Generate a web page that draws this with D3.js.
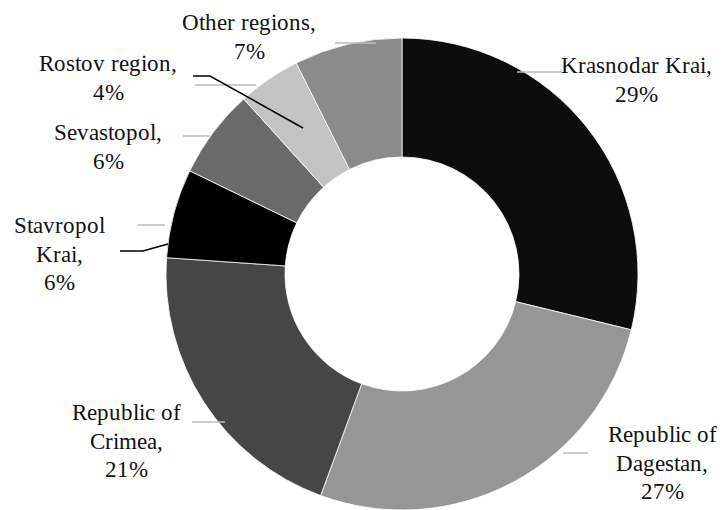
<!DOCTYPE html>
<html>
<head>
<meta charset="utf-8">
<script src="https://cdn.jsdelivr.net/npm/d3@7/dist/d3.min.js"></script>
<style>
@font-face { font-family: "LabelSerif"; src: local("Liberation Serif"), local("LiberationSerif"), local("Times New Roman"), local("Tinos"); }
body{margin:0;}
svg text.lbl{font-family:"LabelSerif","Times New Roman";font-size:23px;fill:#111;}
</style>
</head>
<body>
<svg id="chart" width="728" height="510"></svg>
<script>
// ---- data ----
const regions = ["Krasnodar Krai", "Republic of Dagestan", "Republic of Crimea", "Stavropol Krai", "Sevastopol", "Rostov region", "Other regions"];
const shares = [28.8, 26.8, 20.5, 6.1, 6.1, 4.3, 7.4];
const sliceColors = ["#0d0d0d", "#969696", "#464646", "#000000", "#6a6a6a", "#c3c3c3", "#8b8b8b"];

// ---- label layout (annotation positions) ----
const labelLines = [
  ["Krasnodar Krai,"],
  ["Republic of", "Dagestan,"],
  ["Republic of", "Crimea,"],
  ["Stavropol", "Krai,"],
  ["Sevastopol,"],
  ["Rostov region,"],
  ["Other regions,"]
];
const labelPos = [
  {x: 636, y: 73},
  {x: 662, y: 442},
  {x: 126, y: 420},
  {x: 59, y: 233},
  {x: 108, y: 140},
  {x: 108, y: 71},
  {x: 249, y: 30}
];
const grayLeaders = [
  [[517, 72], [562, 72]],
  [[563, 453], [588, 453]],
  [[192, 422], [225, 422]],
  [[138, 225], [165, 225]],
  [[183, 136], [210, 136]],
  [[195, 85], [256, 85]],
  [[335, 43], [376, 43]]
];
const blackLeaders = [
  [[120, 251], [143, 251], [168, 244]],
  [[193, 76], [210, 76], [303, 128]]
];

const svg = d3.select("#chart");
const cx = 402, cy = 274, rOuter = 236, rInner = 117;

const data = regions.map((r, i) => ({name: r, value: shares[i], color: sliceColors[i], i}));
const pie = d3.pie().value(d => d.value).sort(null).startAngle(0).endAngle(2 * Math.PI);
const arc = d3.arc().innerRadius(rInner).outerRadius(rOuter);

const g = svg.append("g").attr("transform", `translate(${cx},${cy})`);
g.selectAll("path.slice")
  .data(pie(data))
  .join("path")
  .attr("class", "slice")
  .attr("d", arc)
  .attr("fill", d => d.data.color)
  .attr("stroke", "#ffffff")
  .attr("stroke-width", 0.8);

const line = d3.line();
svg.selectAll("path.gl")
  .data(grayLeaders)
  .join("path")
  .attr("class", "gl")
  .attr("d", line)
  .attr("fill", "none")
  .attr("stroke", "#bdbdbd")
  .attr("stroke-width", 1.5);

svg.selectAll("path.bl")
  .data(blackLeaders)
  .join("path")
  .attr("class", "bl")
  .attr("d", line)
  .attr("fill", "none")
  .attr("stroke", "#000")
  .attr("stroke-width", 1.5);

const lineH = 28.5;
data.forEach((d, i) => {
  const lines = labelLines[i].concat([Math.round(d.value) + "%"]);
  lines.forEach((s, k) => {
    svg.append("text")
      .attr("class", "lbl")
      .attr("text-anchor", "middle")
      .attr("x", labelPos[i].x)
      .attr("y", labelPos[i].y + k * lineH)
      .text(s);
  });
});
</script>
</body>
</html>
